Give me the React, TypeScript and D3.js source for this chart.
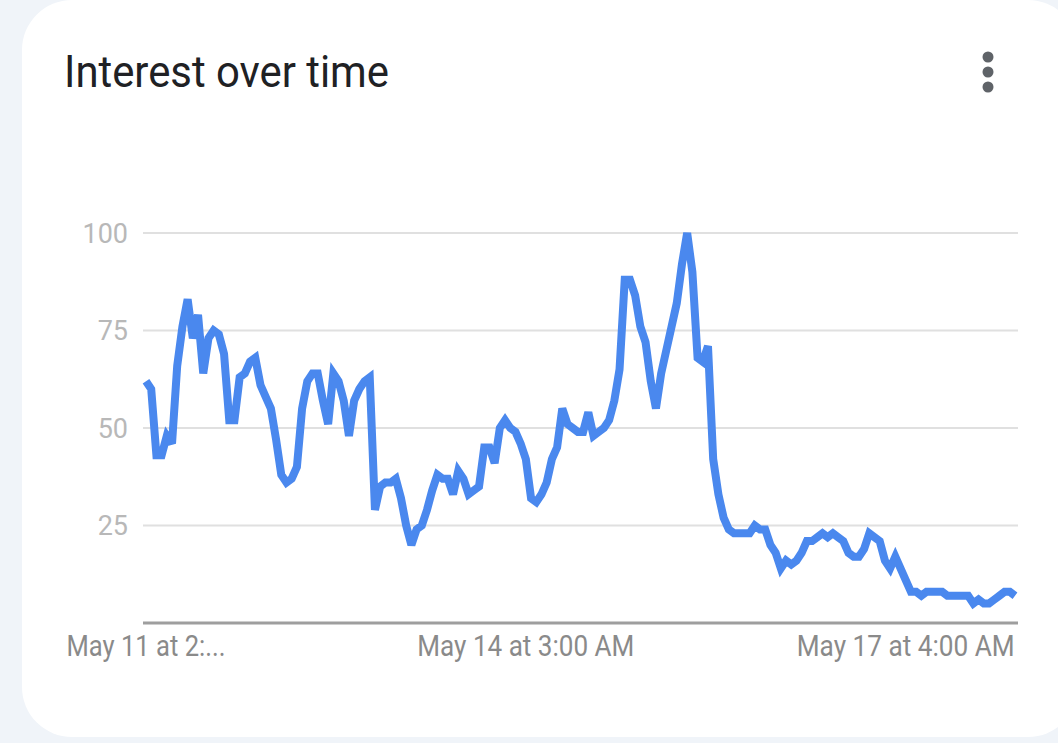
import React from "react";
import * as d3 from "d3";

const title = "Interest over time";

// Hourly interest values, May 11 2:00 AM onward
const values: number[] = [
  62, 60, 43, 43, 48, 46, 66, 76, 83, 73,
  79, 64, 73, 75, 74, 69, 52, 52, 63, 64,
  67, 68, 61, 58, 55, 47, 38, 36, 37, 40,
  55, 62, 64, 64, 57, 51, 64, 62, 57, 48,
  57, 60, 62, 63, 29, 35, 36, 36, 37, 32,
  25, 20, 24, 25, 29, 34, 38, 37, 37, 33,
  39, 37, 33, 34, 35, 45, 45, 41, 50, 52,
  50, 49, 46, 42, 32, 31, 33, 36, 42, 45,
  55, 51, 50, 49, 49, 54, 48, 49, 50, 52,
  57, 65, 88, 88, 84, 76, 72, 62, 55, 64,
  70, 76, 82, 92, 100, 90, 68, 67, 71, 42,
  33, 27, 24, 23, 23, 23, 23, 25, 24, 24,
  20, 18, 14, 16, 15, 16, 18, 21, 21, 22,
  23, 22, 23, 22, 21, 18, 17, 17, 19, 23,
  22, 21, 16, 14, 17, 14, 11, 8, 8, 7,
  8, 8, 8, 8, 7, 7, 7, 7, 7, 5,
  6, 5, 5, 6, 7, 8, 8, 7,
];

const xTickIndexes = [0, 73, 146];
const xTickLabels = ["May 11 at 2:...", "May 14 at 3:00 AM", "May 17 at 4:00 AM"];
const xTickWidths = [159, 217, 218];
const yTicks = [25, 50, 75, 100];

export default function App() {
  const W = 1058;
  const H = 743;
  const plotLeft = 143;
  const plotRight = 1018;
  const x = d3.scaleLinear().domain([0, values.length - 1]).range([146, 1015]);
  const y = d3.scaleLinear().domain([0, 100]).range([623, 233]);
  const line = d3
    .line<number>()
    .x((_, i) => x(i))
    .y((d) => y(d));

  return (
    <svg
      width={W}
      height={H}
      style={{ position: "absolute", left: 0, top: 0, display: "block" }}
    >
      <rect x={0} y={0} width={W} height={H} fill="#f0f4f9" />
      <rect x={22} y={0} width={1056} height={737} rx={50} ry={50} fill="#ffffff" />
      <text
        x={64}
        y={87}
        fontFamily="Roboto, sans-serif"
        fontSize={44}
        fill="#202124"
        textLength={325}
        lengthAdjust="spacingAndGlyphs"
      >
        {title}
      </text>
      {[57, 72, 87].map((cy) => (
        <circle key={cy} cx={988} cy={cy} r={5.5} fill="#5f6368" />
      ))}
      {yTicks.map((t) => (
        <g key={t}>
          <line x1={plotLeft} x2={plotRight} y1={y(t)} y2={y(t)} stroke="#e0e0e0" strokeWidth={2} />
          <text
            x={128}
            y={y(t)}
            dy="0.36em"
            textAnchor="end"
            fontFamily="Roboto, sans-serif"
            fontSize={27}
            fill="#b8b8b8"
          >
            {t}
          </text>
        </g>
      ))}
      <line x1={plotLeft} x2={plotRight} y1={y(0)} y2={y(0)} stroke="#9e9e9e" strokeWidth={3} />
      {xTickIndexes.map((idx, k) => (
        <text
          key={idx}
          x={x(idx)}
          y={656}
          textAnchor="middle"
          fontFamily="Roboto, sans-serif"
          fontSize={29}
          fill="#8a8a8a"
          textLength={xTickWidths[k]}
          lengthAdjust="spacingAndGlyphs"
        >
          {xTickLabels[k]}
        </text>
      ))}
      <path
        d={line(values) || ""}
        fill="none"
        stroke="#4a88ee"
        strokeWidth={8}
        strokeLinejoin="miter"
        strokeMiterlimit={3}
      />
    </svg>
  );
}
